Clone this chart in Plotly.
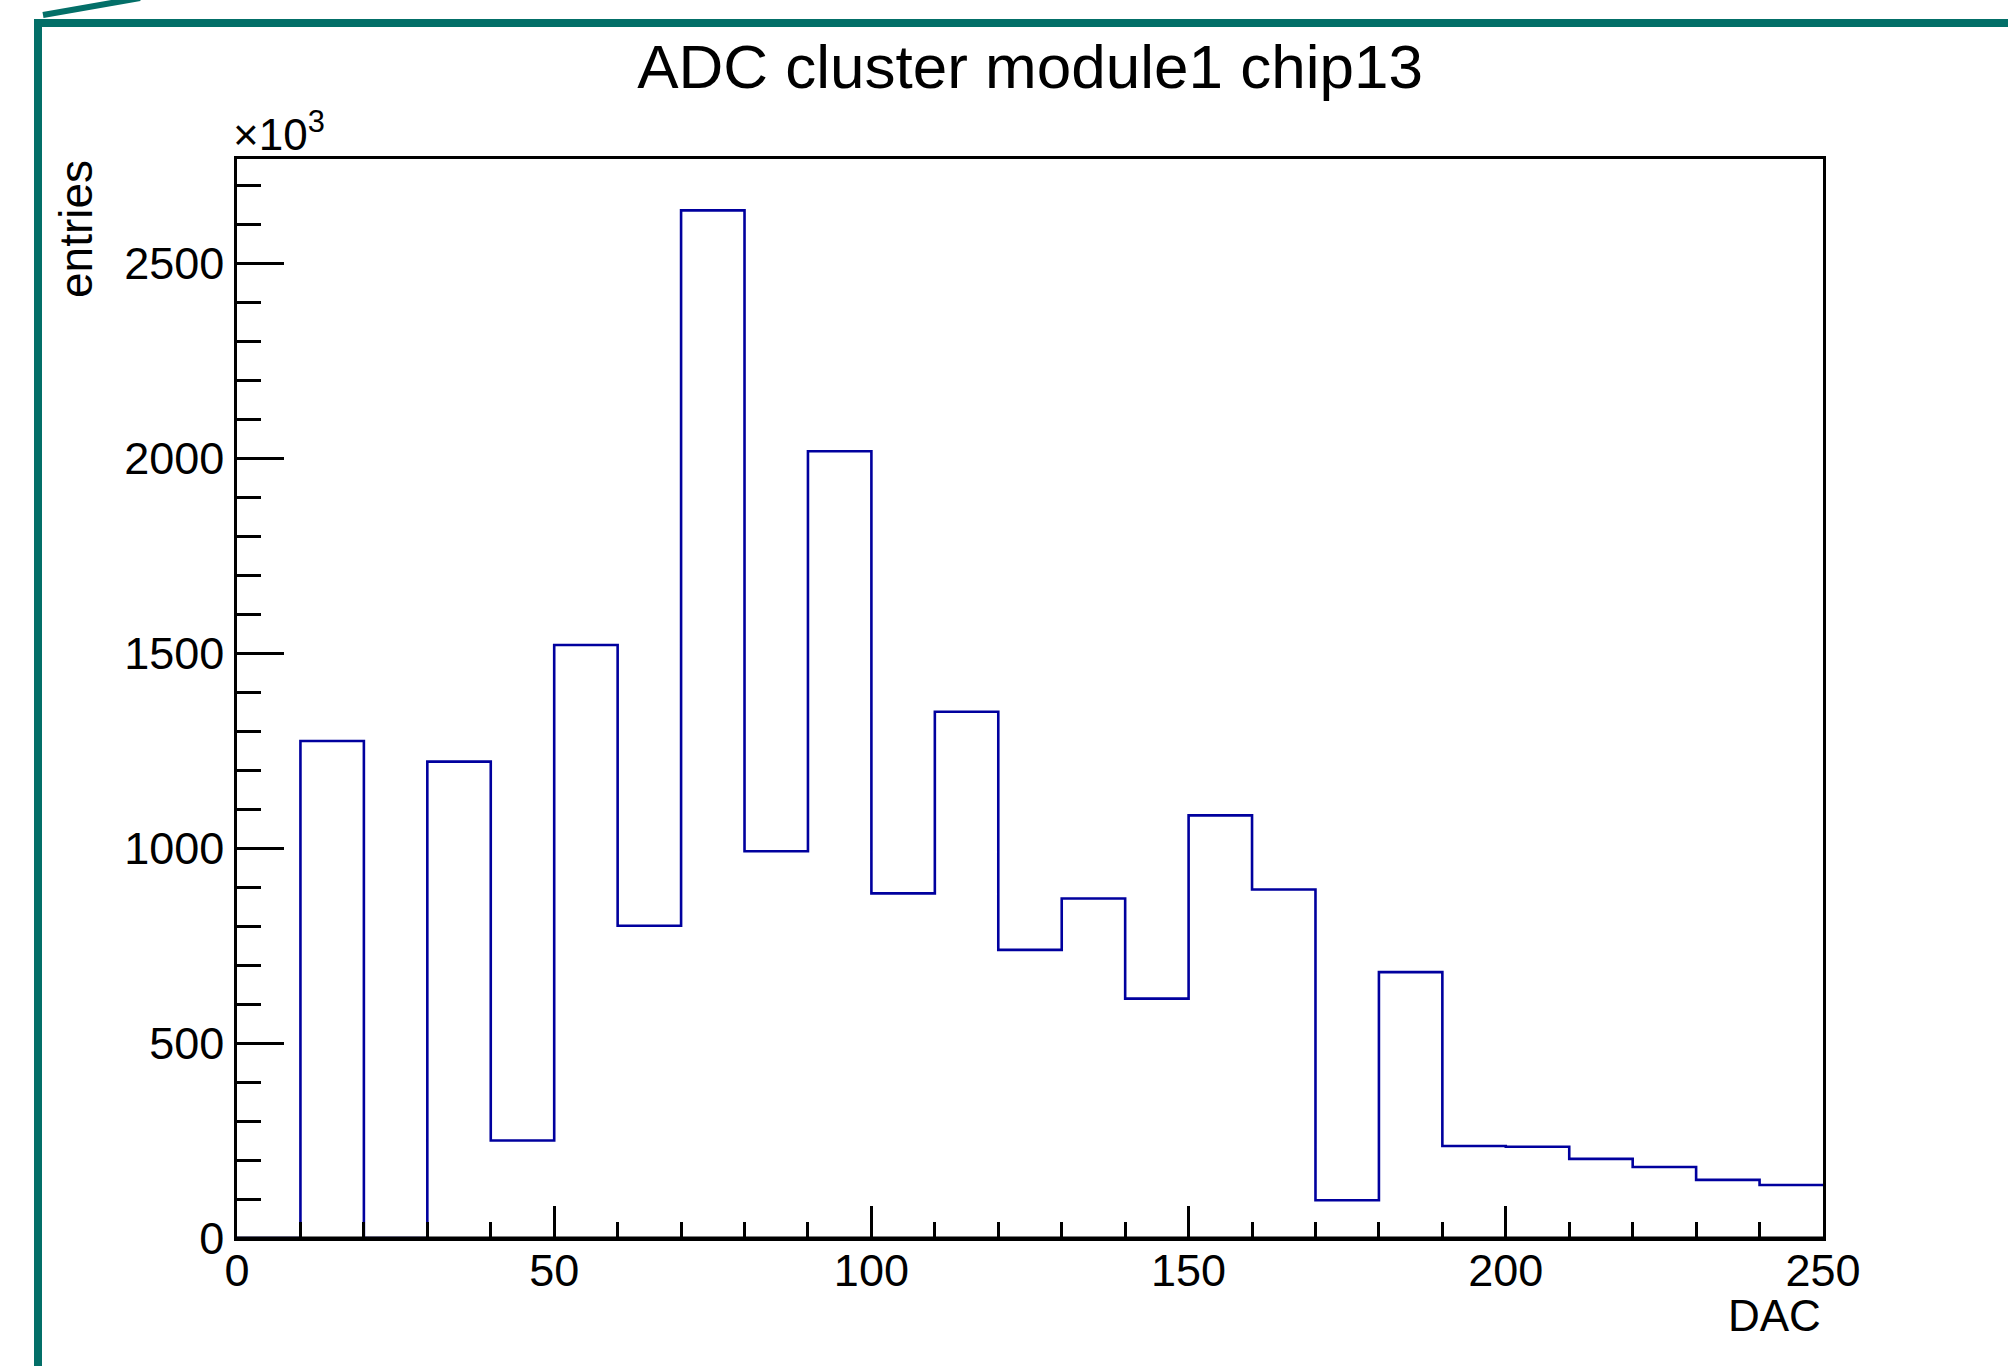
import plotly.graph_objects as go

# ---- data (entries in units of 10^3) ----
bin_edges = [0, 10, 20, 30, 40, 50, 60, 70, 80, 90, 100, 110, 120, 130, 140, 150,
             160, 170, 180, 190, 200, 210, 220, 230, 240, 250]
entries_k = [0, 1275, 0, 1222, 250, 1521, 801, 2636, 992, 2018, 884, 1350, 739, 871,
             614, 1084, 894, 97, 682, 236, 234, 203, 182, 149, 136]
x_ticks = [0, 50, 100, 150, 200, 250]
y_ticks = [0, 500, 1000, 1500, 2000, 2500]

title_text = "ADC cluster module1 chip13"
x_title = "DAC"
y_title = "entries"

# ---- layout geometry (pixels) ----
W, H = 2008, 1366
L, R, T, B = 237, 1823, 159, 1238
pw, ph = R - L, B - T

def px(xp):
    return (xp - L) / pw

def py(yp):
    return (B - yp) / ph

FONT = "Liberation Sans, Arial, Helvetica, sans-serif"
FRAME = "#036F68"

step_x = bin_edges[:]
step_y = entries_k + [entries_k[-1]]

fig = go.Figure()
fig.add_trace(go.Scatter(
    x=step_x, y=step_y, mode="lines", line_shape="hv",
    line=dict(color="#00009E", width=2.6), hoverinfo="skip", showlegend=False,
))

ymax = max(entries_k) * 1.05

fig.update_layout(
    width=W, height=H,
    margin=dict(l=L, r=W - R, t=T, b=H - B, pad=0),
    paper_bgcolor="white", plot_bgcolor="white",
    font=dict(family=FONT, color="black", size=45),
    title=dict(text=title_text, x=0.5, xref="paper", xanchor="center",
               y=1 - 66 / H, yref="container", yanchor="middle",
               font=dict(family=FONT, size=62, color="black")),
    xaxis=dict(
        range=[0, 250], tickvals=x_ticks, ticktext=[str(v) for v in x_ticks],
        ticks="inside", ticklen=32, tickwidth=2.5, tickcolor="black",
        minor=dict(dtick=10, tick0=0, ticks="inside", ticklen=16, tickwidth=2.5, tickcolor="black"),
        showline=True, linecolor="black", linewidth=2.5, mirror=True,
        showgrid=False, zeroline=False, layer="above traces",
        tickfont=dict(family=FONT, size=45, color="black"),
        ticklabelstandoff=-9,
    ),
    yaxis=dict(
        range=[0, ymax], tickvals=y_ticks, ticktext=[str(v) for v in y_ticks],
        ticks="inside", ticklen=47, tickwidth=2.5, tickcolor="black",
        minor=dict(dtick=100, tick0=0, ticks="inside", ticklen=24, tickwidth=2.5, tickcolor="black"),
        showline=True, linecolor="black", linewidth=2.5, mirror=True,
        showgrid=False, zeroline=False, layer="above traces",
        tickfont=dict(family=FONT, size=45, color="black"),
        ticklabelstandoff=1,
    ),
    shapes=[
        # baseline drawn over the empty bins, as the axis covers them in the original
        dict(type="line", xref="paper", yref="paper", layer="above",
             x0=0, x1=1, y0=0, y1=0, line=dict(color="black", width=3)),
        dict(type="line", xref="paper", yref="paper",
             x0=px(34), x1=px(W + 20), y0=py(23), y1=py(23),
             line=dict(color=FRAME, width=8)),
        dict(type="line", xref="paper", yref="paper",
             x0=px(38), x1=px(38), y0=py(19), y1=py(H + 20),
             line=dict(color=FRAME, width=8)),
        dict(type="line", xref="paper", yref="paper",
             x0=px(43), x1=px(140), y0=py(15), y1=py(-2),
             line=dict(color=FRAME, width=6)),
    ],
    annotations=[
        dict(text=y_title, textangle=-90, xref="paper", yref="paper",
             x=px(76), y=py(158), xanchor="center", yanchor="top",
             showarrow=False, font=dict(family=FONT, size=46, color="black")),
        dict(text=x_title, xref="paper", yref="paper",
             x=1, y=py(1315), xanchor="right", yanchor="middle",
             showarrow=False, font=dict(family=FONT, size=44, color="black")),
        dict(text="×10<sup>3</sup>", xref="paper", yref="paper",
             x=px(231), y=py(161), xanchor="left", yanchor="bottom",
             showarrow=False, font=dict(family=FONT, size=44, color="black")),
    ],
)

fig.write_html("out.html", config={"displayModeBar": False},
               post_script="document.body.style.margin='0';")
